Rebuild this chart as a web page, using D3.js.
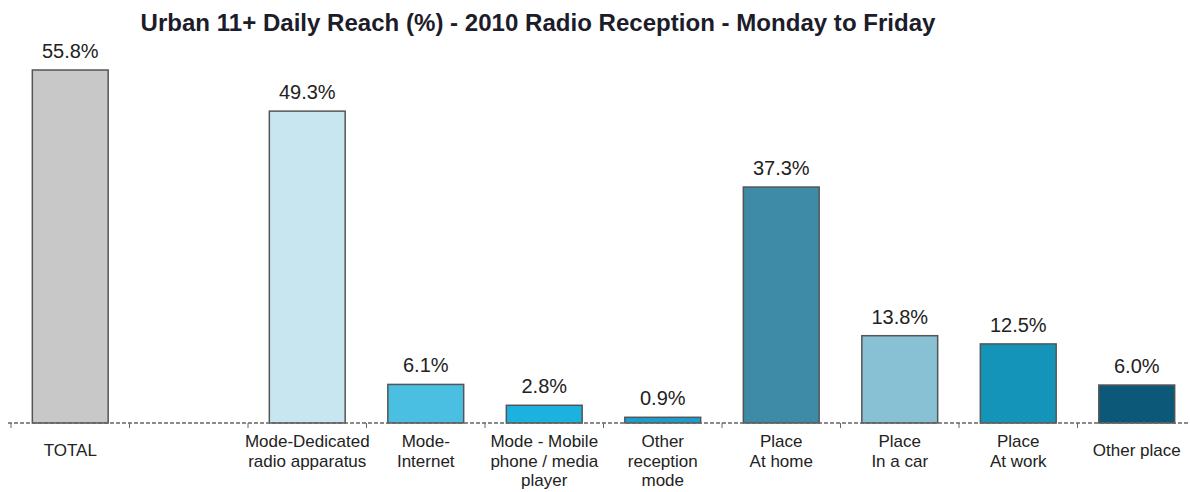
<!DOCTYPE html>
<html>
<head>
<meta charset="utf-8">
<script src="https://cdn.jsdelivr.net/npm/d3@7"></script>
<style>
  body { margin: 0; background: #fff; }
  svg { display: block; font-family: "Liberation Sans", Arial, sans-serif; }
</style>
</head>
<body>
<svg id="chart" width="1190" height="492"></svg>
<script>
// chart data
const categories = ['total', 'gap', 'dedicated', 'internet', 'mobile', 'otherMode', 'home', 'car', 'work', 'otherPlace'];
const values = [55.8, null, 49.3, 6.1, 2.8, 0.9, 37.3, 13.8, 12.5, 6.0];
const valueLabels = ['55.8%', '', '49.3%', '6.1%', '2.8%', '0.9%', '37.3%', '13.8%', '12.5%', '6.0%'];
const categoryLabels = [
  ['TOTAL'],
  [],
  ['Mode-Dedicated', 'radio apparatus'],
  ['Mode-', 'Internet'],
  ['Mode - Mobile', 'phone / media', 'player'],
  ['Other', 'reception', 'mode'],
  ['Place', 'At home'],
  ['Place', 'In a car'],
  ['Place', 'At work'],
  ['Other place']
];
const barColors = ['#c8c8c8', 'none', '#c8e6f0', '#4bbfe2', '#1cb2e0', '#1a9fd0', '#3d8ba6', '#88c0d4', '#1494b8', '#0b5878'];
const title = 'Urban 11+ Daily Reach (%) - 2010 Radio Reception - Monday to Friday';

const svg = d3.select('#chart');
const axisY = 423;

const x = d3.scaleBand()
  .domain(categories)
  .range([11, 1196])
  .paddingInner(0.36)
  .paddingOuter(0.18);

const y = d3.scaleLinear()
  .domain([0, 60])
  .range([axisY, axisY - 60 * 6.326]);

// title
svg.append('text')
  .attr('x', 538)
  .attr('y', 31)
  .attr('text-anchor', 'middle')
  .style('font-size', '23px')
  .style('font-weight', 'bold')
  .style('fill', '#1c1c2a')
  .attr('textLength', 795)
  .attr('lengthAdjust', 'spacingAndGlyphs')
  .text(title);

const data = categories.map((c, i) => ({ key: c, value: values[i], label: valueLabels[i], color: barColors[i], lines: categoryLabels[i] }));
const bars = data.filter(d => d.value != null);

// bars
svg.selectAll('.bar')
  .data(bars)
  .enter()
  .append('rect')
  .attr('class', 'bar')
  .attr('x', d => x(d.key))
  .attr('width', x.bandwidth())
  .attr('y', d => y(d.value))
  .attr('height', d => y(0) - y(d.value))
  .attr('fill', d => d.color)
  .attr('stroke', '#555')
  .attr('stroke-width', 1.5);

// value labels
svg.selectAll('.val')
  .data(bars)
  .enter()
  .append('text')
  .attr('class', 'val')
  .attr('x', d => x(d.key) + x.bandwidth() / 2)
  .attr('y', d => y(d.value) - 12)
  .attr('text-anchor', 'middle')
  .style('font-size', '20px')
  .style('fill', '#222')
  .text(d => d.label);

// dashed baseline with ticks at band boundaries
svg.append('line')
  .attr('x1', 8)
  .attr('x2', 1190)
  .attr('y1', axisY)
  .attr('y2', axisY)
  .attr('stroke', '#666')
  .attr('stroke-width', 1.5)
  .attr('stroke-dasharray', '4,2');

const boundaries = categories.map(c => x(c) - x.step() * x.paddingInner() / 2);
svg.selectAll('.tick')
  .data(boundaries)
  .enter()
  .append('line')
  .attr('class', 'tick')
  .attr('x1', d => d)
  .attr('x2', d => d)
  .attr('y1', axisY)
  .attr('y2', axisY + 5)
  .attr('stroke', '#666')
  .attr('stroke-width', 1);

// category labels
const cat = svg.selectAll('.cat')
  .data(data)
  .enter()
  .append('text')
  .attr('class', 'cat')
  .attr('text-anchor', 'middle')
  .style('font-size', '17px')
  .style('fill', '#222');

cat.selectAll('tspan')
  .data(d => d.lines.map((l, i) => ({ text: l, i, cx: x(d.key) + x.bandwidth() / 2, single: d.lines.length === 1 })))
  .enter()
  .append('tspan')
  .attr('x', d => d.cx)
  .attr('y', d => (d.single ? 456 : 447) + d.i * 19.5)
  .text(d => d.text);
</script>
</body>
</html>
